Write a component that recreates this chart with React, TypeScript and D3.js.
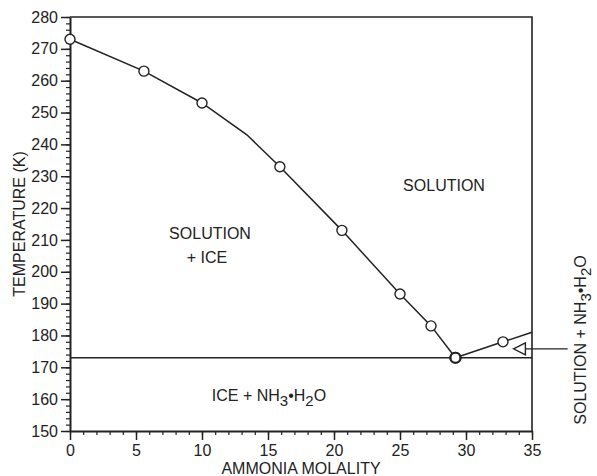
import React, { useRef, useEffect } from "react";
import { axisBottom, axisLeft, line, range, scaleLinear, select } from "d3";

// ice liquidus (kink at 13.4 has no marker)
const iceMolality = [0, 5.6, 10, 13.4, 15.9, 20.6, 25, 27.35, 29.2];
const iceTemp = [273, 263, 253, 243, 233, 213, 193, 183, 173];
const iceMarked = [true, true, true, false, true, true, true, true, true];

// hydrate branch
const hydMolality = [29.2, 32.8, 35];
const hydTemp = [173, 178, 181];
const hydMarked = [true, true, false];

// eutectic
const eutMolality = [0, 35];
const eutTemp = [173, 173];

const xTicks = [0, 5, 10, 15, 20, 25, 30, 35];
const yTicks = [150, 160, 170, 180, 190, 200, 210, 220, 230, 240, 250, 260, 270, 280];

// arrow: tip, base, tail (molality, K)
const arrowMolality = [33.6, 34.5, 37.7];
const arrowTemp = [175.8, 175.8, 175.8];

const W = 597;
const H = 476;
const FONT = "'Liberation Sans', Arial, Helvetica, sans-serif";
const INK = "#222";

function Chart() {
  const svgRef = useRef();
  useEffect(() => {
    document.body.style.margin = "0";
    const svg = select(svgRef.current);
    svg.selectAll("*").remove();

    const x = scaleLinear().domain([0, 35]).range([70, 532]);
    const y = scaleLinear().domain([150, 280]).range([431, 17]);

    // minor ticks
    svg
      .append("g")
      .attr("transform", "translate(70,0)")
      .call(axisLeft(y).tickValues(range(150, 281, 2)).tickSize(4).tickFormat(() => "").tickSizeOuter(0))
      .call((g) => g.select(".domain").remove())
      .selectAll("line")
      .attr("stroke", INK)
      .attr("stroke-width", 1.2);
    svg
      .append("g")
      .attr("transform", "translate(0,431)")
      .call(axisBottom(x).tickValues(range(0, 36, 1)).tickSize(4).tickFormat(() => "").tickSizeOuter(0))
      .call((g) => g.select(".domain").remove())
      .selectAll("line")
      .attr("stroke", INK)
      .attr("stroke-width", 1.2);

    // major axes
    const yAxis = svg
      .append("g")
      .attr("transform", "translate(70,0)")
      .call(axisLeft(y).tickValues(yTicks).tickSize(9).tickPadding(3).tickSizeOuter(0));
    const xAxis = svg
      .append("g")
      .attr("transform", "translate(0,431)")
      .call(axisBottom(x).tickValues(xTicks).tickSize(9).tickPadding(5).tickSizeOuter(0));
    [yAxis, xAxis].forEach((g) => {
      g.attr("font-family", FONT).attr("font-size", 16);
      g.selectAll("text").attr("fill", INK);
      g.selectAll("line").attr("stroke", INK).attr("stroke-width", 1.5);
      g.select(".domain").attr("stroke", INK).attr("stroke-width", 2);
    });

    // top and right frame
    svg
      .append("path")
      .attr("d", `M${x(0)},${y(280)}H${x(35)}V${y(150)}`)
      .attr("fill", "none")
      .attr("stroke", INK)
      .attr("stroke-width", 1.6);

    const path = line()
      .x((d) => x(d[0]))
      .y((d) => y(d[1]));

    const series = [
      { mx: iceMolality, t: iceTemp, marked: iceMarked },
      { mx: hydMolality, t: hydTemp, marked: hydMarked },
      { mx: eutMolality, t: eutTemp, marked: [false, false] },
    ];

    series.forEach((s) => {
      const pts = s.mx.map((m, i) => [m, s.t[i]]);
      svg
        .append("path")
        .attr("d", path(pts))
        .attr("fill", "none")
        .attr("stroke", INK)
        .attr("stroke-width", 1.5);
    });

    series.forEach((s) => {
      s.mx.forEach((m, i) => {
        if (!s.marked[i]) return;
        svg
          .append("circle")
          .attr("cx", x(m))
          .attr("cy", y(s.t[i]))
          .attr("r", 5)
          .attr("fill", "white")
          .attr("stroke", INK)
          .attr("stroke-width", s.t[i] === 173 ? 2.2 : 1.4);
      });
    });

    // arrow with open head
    const tipX = x(arrowMolality[0]);
    const baseX = x(arrowMolality[1]);
    const ay = y(arrowTemp[0]);
    svg
      .append("path")
      .attr("d", `M${baseX},${ay}H${x(arrowMolality[2])}`)
      .attr("stroke", INK)
      .attr("stroke-width", 1.4);
    svg
      .append("path")
      .attr("d", `M${tipX},${ay}L${baseX},${ay - 6}L${baseX},${ay + 6}Z`)
      .attr("fill", "white")
      .attr("stroke", INK)
      .attr("stroke-width", 1.4);

    const label = (tx, ty, parts, rotate = false) => {
      const t = svg
        .append("text")
        .attr("font-family", FONT)
        .attr("font-size", 16)
        .attr("fill", INK)
        .attr("text-anchor", "middle")
        .attr("transform", rotate ? `translate(${tx},${ty}) rotate(-90)` : `translate(${tx},${ty})`);
      parts.forEach(([s, sub]) => {
        t.append("tspan")
          .attr("baseline-shift", sub ? "-5" : null)
          .attr("font-size", sub ? 15 : null)
          .text(s);
      });
      return t;
    };

    label(444, 191, [["SOLUTION"]]);
    label(210, 239, [["SOLUTION"]]);
    label(207, 263, [["+ ICE"]]);
    label(269, 401, [["ICE + NH"], ["3", true], ["•H"], ["2", true], ["O"]]);
    label(586, 340, [["SOLUTION + NH"], ["3", true], ["•H"], ["2", true], ["O"]], true);
    label(25, 224, [["TEMPERATURE (K)"]], true);
    label(301, 474, [["AMMONIA MOLALITY"]]);
  }, []);

  return <svg ref={svgRef} width={W} height={H} style={{ display: "block", background: "white" }}></svg>;
}

export default function App() {
  return <Chart />;
}
